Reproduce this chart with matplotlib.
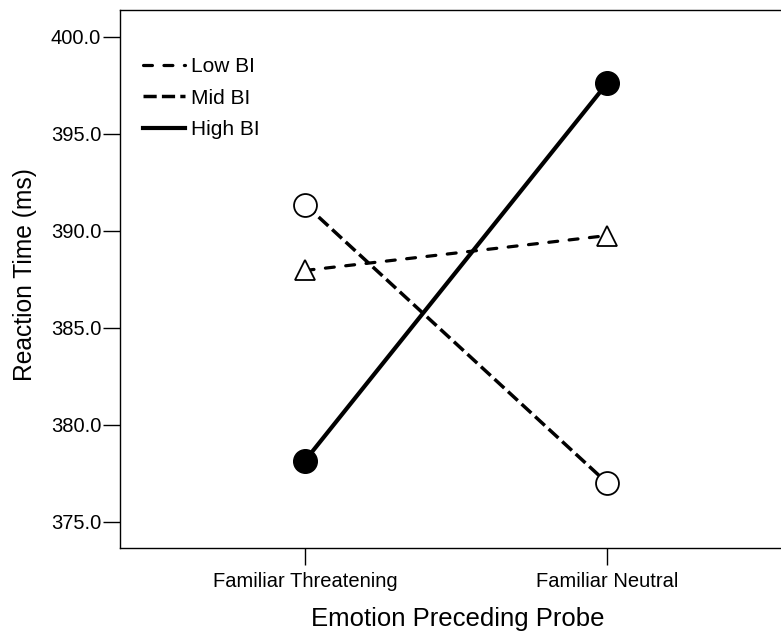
import matplotlib
matplotlib.use("Agg")
import matplotlib.pyplot as plt
from matplotlib.ticker import FormatStrFormatter

plt.rcParams['font.family'] = ['Liberation Sans', 'DejaVu Sans']

categories = ["Familiar Threatening", "Familiar Neutral"]
low_bi = [387.95, 389.75]
mid_bi = [391.35, 377.0]
high_bi = [378.15, 397.6]
series_names = ["Low BI", "Mid BI", "High BI"]
yticks = [375.0, 380.0, 385.0, 390.0, 395.0, 400.0]

fig = plt.figure(figsize=(7.81, 6.35), dpi=100)
ax = fig.add_axes([120/781, 1-548/635, 1.0-120/781+0.01, (548-10)/635])

x = list(range(len(categories)))

ax.plot(x, low_bi, color='black', lw=2.3, linestyle=(0, (2.8, 3.6)),
        dash_capstyle='round', label=series_names[0], zorder=2)
ax.plot(x, mid_bi, color='black', lw=2.5, linestyle=(0, (3.8, 1.5)),
        label=series_names[1], zorder=2)
ax.plot(x, high_bi, color='black', lw=3.0, linestyle='-',
        label=series_names[2], zorder=2)

ax.plot(x, low_bi, linestyle='none', marker='^', markersize=14,
        markerfacecolor='white', markeredgecolor='black', markeredgewidth=1.3, zorder=3)
ax.plot(x, mid_bi, linestyle='none', marker='o', markersize=16.5,
        markerfacecolor='white', markeredgecolor='black', markeredgewidth=1.3, zorder=3)
ax.plot(x, high_bi, linestyle='none', marker='o', markersize=17,
        markerfacecolor='black', markeredgecolor='black', markeredgewidth=1.0, zorder=3)

ax.set_xlim(-0.613, 1.576 + 0.026)
ax.set_ylim(373.64, 401.38)
ax.set_xticks(x)
ax.set_xticklabels(categories)
ax.set_yticks(yticks)
ax.yaxis.set_major_formatter(FormatStrFormatter('%.1f'))

ax.spines['right'].set_visible(False)
for s in ['left', 'top', 'bottom']:
    ax.spines[s].set_linewidth(1.0)
ax.tick_params(axis='both', direction='out', length=12, width=1.0, labelsize=14.5)
ax.tick_params(axis='y', pad=1.5)
ax.tick_params(axis='x', pad=5)

ax.set_ylabel("Reaction Time (ms)", fontsize=17.7)
ax.yaxis.set_label_coords(-0.124, 0.509)
ax.set_xlabel("Emotion Preceding Probe", fontsize=18.5)
ax.xaxis.set_label_coords(0.5056, -0.1097)

ax.legend(loc='upper left', frameon=False, fontsize=15, handlelength=2.0,
          handletextpad=0.3, labelspacing=0.6, borderaxespad=0.0,
          borderpad=0.0, bbox_to_anchor=(23/668.5, 1 - 47/538))

fig.savefig("out.png", dpi=100)
